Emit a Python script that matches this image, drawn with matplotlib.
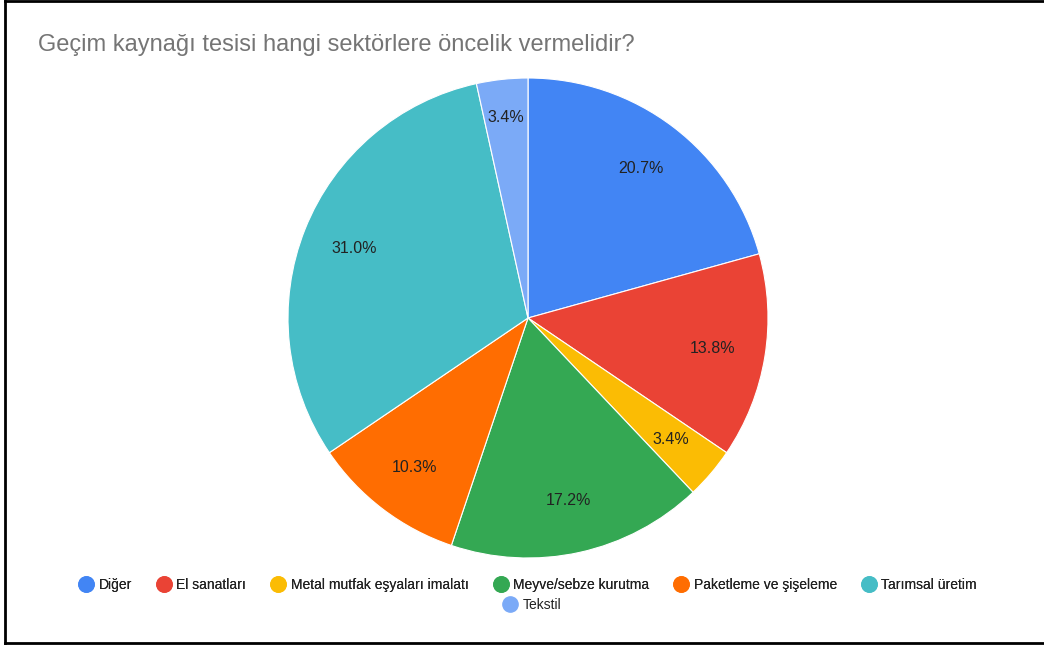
import matplotlib.pyplot as plt
from matplotlib.lines import Line2D

plt.rcParams['font.family'] = ['Liberation Sans', 'DejaVu Sans']

title = "Geçim kaynağı tesisi hangi sektörlere öncelik vermelidir?"
categories = ["Diğer", "El sanatları", "Metal mutfak eşyaları imalatı",
              "Meyve/sebze kurutma", "Paketleme ve şişeleme", "Tarımsal üretim", "Tekstil"]
counts = [6, 4, 1, 5, 3, 9, 1]
colors = ["#4285F4", "#EA4335", "#FBBC04", "#34A853", "#FF6D01", "#46BDC6", "#7BAAF7"]

fig = plt.figure(figsize=(10.44, 6.48), dpi=100)

# frame around the image (no right edge in reference)
fig.add_artist(Line2D([5/1044, 5/1044], [1 - 643/648, 1 - 1/648], color="black", lw=2))
fig.add_artist(Line2D([5/1044, 1], [1 - 643/648, 1 - 643/648], color="black", lw=2))
fig.add_artist(Line2D([5/1044, 1], [1 - 1/648, 1 - 1/648], color="black", lw=2))

fig.text(38/1044, 1 - 45/648, title, fontsize=17, color="#757575", va="center", ha="left")

ax = fig.add_axes([288/1044, 90/648, 480/1044, 480/648])
wedges, texts, autotexts = ax.pie(counts, colors=colors, startangle=90, counterclock=False,
                                  autopct="%1.1f%%", pctdistance=0.78,
                                  wedgeprops=dict(edgecolor="white", linewidth=0.8),
                                  textprops=dict(fontsize=11.5, color="#222222"))
# small top slice label sits further out in the reference
x, y = autotexts[6].get_position()
autotexts[6].set_position((x * 0.84 / 0.78, y * 0.84 / 0.78))
ax.set_xlim(-1, 1)
ax.set_ylim(-1, 1)
ax.set_aspect("equal")

def handle(c):
    return Line2D([], [], marker="o", linestyle="none", markersize=11,
                  markerfacecolor=c, markeredgecolor=c)

leg1 = fig.legend([handle(c) for c in colors[:6]], categories[:6], ncol=6,
                  loc="center", bbox_to_anchor=(528/1044, 1 - 585/648), frameon=False,
                  fontsize=10, handletextpad=0.4, columnspacing=1.8, handlelength=1.0,
                  labelcolor="#222222")
fig.add_artist(leg1)
fig.legend([handle(colors[6])], categories[6:], loc="center",
           bbox_to_anchor=(532/1044, 1 - 605/648), frameon=False, fontsize=10,
           handletextpad=0.4, handlelength=1.0, labelcolor="#222222")

fig.savefig("out.png", dpi=100)
